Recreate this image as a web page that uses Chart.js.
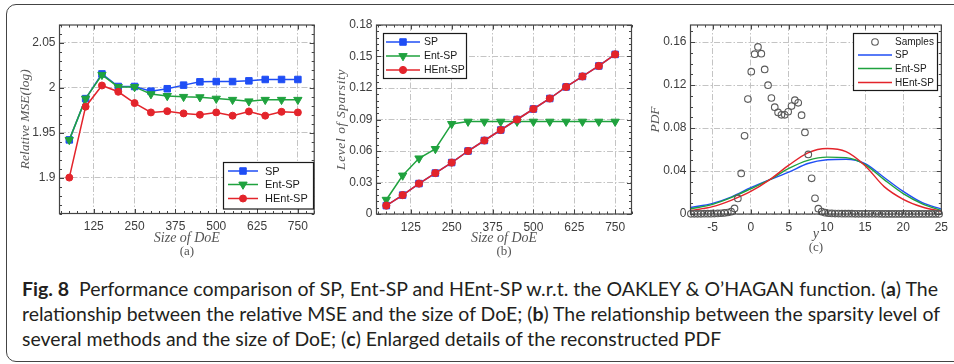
<!DOCTYPE html>
<html>
<head>
<meta charset="utf-8">
<script src="https://cdn.jsdelivr.net/npm/chart.js@4.4.1/dist/chart.umd.min.js"></script>
<style>
  body { margin: 0; width: 954px; height: 364px; overflow: hidden; background: #fff; position: relative; }
  #frame { position: absolute; left: 6px; top: 4px; width: 990px; height: 356px; border: 1.5px solid #444; border-radius: 10px; }
  canvas { position: absolute; top: 0; }
  #caption { position: absolute; left: 22px; top: 276px; color: #231f20;
    font-family: Lato, "Liberation Sans", sans-serif; font-size: 19.5px; line-height: 25px; }
  #caption .ln { white-space: nowrap; height: 25px; }
  #caption .ln span { display: inline-block; transform-origin: 0 50%; }
</style>
</head>
<body>
<div id="frame"></div>
<canvas id="mse" width="320" height="260" style="left:0"></canvas>
<canvas id="sparsity" width="320" height="260" style="left:320px"></canvas>
<canvas id="pdf" width="314" height="260" style="left:640px"></canvas>
<div id="caption">
  <div class="ln"><span><b>Fig. 8</b>&nbsp; Performance comparison of SP, Ent-SP and HEnt-SP w.r.t. the OAKLEY &amp; O’HAGAN function. (<b>a</b>) The</span></div>
  <div class="ln"><span>relationship between the relative MSE and the size of DoE; (<b>b</b>) The relationship between the sparsity level of</span></div>
  <div class="ln"><span>several methods and the size of DoE; (<b>c</b>) Enlarged details of the reconstructed PDF</span></div>
</div>
<script>
// ---- data ----
const doeSizes = [50, 100, 150, 200, 250, 300, 350, 400, 450, 500, 550, 600, 650, 700, 750];

// (a) relative MSE (log)
const mseSP   = [1.942, 1.988, 2.0155, 2.0015, 2.0015, 1.9963, 1.999, 2.003, 2.0067, 2.007, 2.007, 2.0078, 2.0093, 2.0093, 2.0093];
const mseEnt  = [1.942, 1.988, 2.0145, 2.001, 2.001, 1.993, 1.991, 1.990, 1.9896, 1.988, 1.9867, 1.985, 1.9867, 1.9867, 1.9867];
const mseHEnt = [1.900, 1.979, 2.0026, 1.9956, 1.983, 1.9726, 1.974, 1.9715, 1.970, 1.9726, 1.969, 1.9737, 1.969, 1.9733, 1.9726];

// (b) level of sparsity
const sparsSP   = [0.008, 0.018, 0.029, 0.039, 0.049, 0.060, 0.070, 0.080, 0.090, 0.100, 0.110, 0.121, 0.131, 0.141, 0.152];
const sparsEnt  = [0.0136, 0.0367, 0.053, 0.062, 0.0858, 0.088, 0.088, 0.088, 0.088, 0.088, 0.088, 0.088, 0.088, 0.088, 0.088];
const sparsHEnt = [0.008, 0.018, 0.029, 0.039, 0.049, 0.060, 0.070, 0.080, 0.090, 0.100, 0.110, 0.121, 0.131, 0.141, 0.152];

// (c) samples of the PDF
const sampleX = [-7.85, -7.41, -6.97, -6.53, -6.09, -5.65, -5.21, -4.77, -4.33, -3.89, -3.45, -3.01, -2.57, -2.13, -1.69,
  -1.25, -0.81, -0.37, 0.07, 0.51, 0.95, 1.39, 1.83, 2.27, 2.71, 3.15, 3.59, 4.03, 4.47, 4.91,
  5.35, 5.79, 6.23, 6.67, 7.11, 7.55, 7.99, 8.43, 8.87, 9.31, 9.75, 10.19, 10.63, 11.07, 11.51,
  11.95, 12.39, 12.83, 13.27, 13.71, 14.15, 14.59, 15.03, 15.47, 15.91, 16.35, 16.79, 17.23, 17.67, 18.11,
  18.55, 18.99, 19.43, 19.87, 20.31, 20.75, 21.19, 21.63, 22.07, 22.51, 22.95, 23.39, 23.83, 24.27, 24.71];
const sampleY = [0.0002, 0.0002, 0.0002, 0.0002, 0.0003, 0.0003, 0.0003, 0.0004, 0.0005, 0.0007, 0.0010, 0.0014, 0.0022,
  0.0052, 0.0145, 0.0378, 0.0728, 0.1070, 0.1325, 0.1488, 0.1556, 0.1493, 0.1346, 0.1200, 0.1080, 0.0995, 0.0946,
  0.0924, 0.0924, 0.0952, 0.1005, 0.1060, 0.1035, 0.0920, 0.0760, 0.0555, 0.0332, 0.0146, 0.0050, 0.0022, 0.0012,
  0.0007, 0.0005, 0.0004, 0.0004, 0.0003, 0.0003, 0.0003, 0.0003, 0.0002, 0.0002, 0.0002, 0.0002, 0.0002, 0.0002,
  0.0002, 0.0002, 0.0001, 0.0001, 0.0001, 0.0001, 0.0001, 0.0001, 0.0001, 0.0001, 0.0001, 0.0001, 0.0001, 0.0001,
  0.0001, 0.0001, 0.0001, 0.0001, 0.0001, 0.0001];

// (c) reconstructed PDFs
const pdfX    = [-7.9, -5, -2.5, 0, 2.5, 5, 7.5, 10, 12.5, 15, 17.5, 20, 22.5, 25];
const pdfSP   = [0.0060, 0.0099, 0.0160, 0.0245, 0.032, 0.039, 0.047, 0.0505, 0.051, 0.047, 0.034, 0.021, 0.0105, 0.0045];
const pdfEnt  = [0.0047, 0.0090, 0.0155, 0.0235, 0.032, 0.0425, 0.050, 0.053, 0.0525, 0.046, 0.032, 0.019, 0.0095, 0.0032];
const pdfHEnt = [0.0030, 0.0068, 0.0130, 0.0210, 0.032, 0.0455, 0.057, 0.061, 0.058, 0.045, 0.0255, 0.0137, 0.0065, 0.0025];

// tick labels
const doeTicks   = [125, 250, 375, 500, 625, 750];
const mseTicks   = [1.9, 1.95, 2, 2.05];
const sparsTicks = [0, 0.03, 0.06, 0.09, 0.12, 0.15, 0.18];
const yTicks     = [-5, 0, 5, 10, 15, 20, 25];
const pdfTicks   = [0, 0.04, 0.08, 0.12, 0.16];

// ---- styles ----
const BLUE = '#1f4ef5';
const GREEN = '#1fa23e';
const RED = '#e3242b';
const tickFont = { family: '"Liberation Sans", Arial, sans-serif', size: 12 };
const fmt = (v) => String(+v.toFixed(4));

const axis = (min, max, tickValues, side, size, pad) => ({
  type: 'linear',
  min,
  max,
  afterBuildTicks: (s) => { s.ticks = tickValues.map((value) => ({ value })); },
  afterFit: (s) => { if (side === 'x') s.height = size; else s.width = size; },
  grid: { color: '#c4c4c4', lineWidth: 1, drawTicks: false },
  border: { display: false, dash: [6, 2, 1.5, 2] },
  ticks: { padding: pad, color: '#3d3d3d', font: tickFont, callback: fmt, autoSkip: false, maxRotation: 0 },
});

const series = (label, xs, ys, color, shape, r, rot, order) => ({
  label,
  order,
  data: xs.map((x, i) => ({ x, y: ys[i] })),
  borderColor: color,
  backgroundColor: color,
  borderWidth: 1.5,
  pointStyle: shape,
  pointRadius: r,
  pointRotation: rot,
  pointBorderWidth: 1,
  pointBackgroundColor: color,
  pointBorderColor: color,
  clip: false,
});

const curve = (label, ys, color, order) => ({
  label,
  order,
  data: pdfX.map((x, i) => ({ x, y: ys[i] })),
  borderColor: color,
  backgroundColor: color,
  borderWidth: 1.4,
  pointRadius: 0,
  cubicInterpolationMode: 'monotone',
});

// legend marker, same geometry as Chart.js point styles
const drawMarker = (ctx, ds, x, y) => {
  const r = ds.pointRadius;
  ctx.beginPath();
  if (ds.pointStyle === 'rect') {
    const s = r * Math.SQRT1_2;
    ctx.rect(x - s, y - s, 2 * s, 2 * s);
  } else if (ds.pointStyle === 'triangle') {
    ctx.moveTo(x, y + r);
    ctx.lineTo(x - r * 0.866, y - r / 2);
    ctx.lineTo(x + r * 0.866, y - r / 2);
    ctx.closePath();
  } else {
    ctx.arc(x, y, r, 0, Math.PI * 2);
  }
  ctx.fillStyle = ds.pointBackgroundColor;
  ctx.strokeStyle = ds.pointBorderColor;
  ctx.lineWidth = ds.pointBorderWidth;
  ctx.fill();
  ctx.stroke();
};

// MATLAB-like box: inward ticks on four sides, titles, legend inside the axes
const axesBox = (spec) => ({
  id: 'axesBox',
  afterDraw(chart) {
    const { ctx, chartArea: { left, right, top, bottom }, scales: { x, y } } = chart;
    ctx.save();
    ctx.strokeStyle = '#444';
    ctx.lineWidth = 1;

    const run = (scale, minor, major, horizontal) => {
      const i0 = Math.ceil(scale.min / minor - 1e-6);
      const i1 = Math.floor(scale.max / minor + 1e-6);
      for (let i = i0; i <= i1; i++) {
        const v = i * minor;
        const q = v / major;
        const len = Math.abs(q - Math.round(q)) < 1e-6 ? 4.5 : 2.5;
        const p = Math.round(scale.getPixelForValue(v)) + 0.5;
        ctx.beginPath();
        if (horizontal) {
          ctx.moveTo(p, bottom); ctx.lineTo(p, bottom - len);
          ctx.moveTo(p, top); ctx.lineTo(p, top + len);
        } else {
          ctx.moveTo(left, p); ctx.lineTo(left + len, p);
          ctx.moveTo(right, p); ctx.lineTo(right - len, p);
        }
        ctx.stroke();
      }
    };
    run(x, spec.xMinor, spec.xMajor, true);
    run(y, spec.yMinor, spec.yMajor, false);
    ctx.lineWidth = 1.2;
    ctx.strokeRect(left, top, right - left, bottom - top);

    // axis titles
    const cx = (left + right) / 2;
    ctx.fillStyle = '#555';
    ctx.textAlign = 'center';
    ctx.textBaseline = 'middle';
    ctx.font = 'italic 14px "Liberation Serif", serif';
    ctx.fillText(spec.xTitle, cx, spec.xTitleY);
    ctx.font = '13px "Liberation Serif", serif';
    ctx.fillText(spec.sub, cx, spec.subY);
    ctx.save();
    ctx.translate(spec.yTitleX, (top + bottom) / 2);
    ctx.rotate(-Math.PI / 2);
    ctx.font = 'italic 13.5px "Liberation Serif", serif';
    ctx.letterSpacing = spec.ySpacing || '0px';
    ctx.fillText(spec.yTitle, 0, 0);
    ctx.restore();

    // legend
    const lg = spec.legend;
    ctx.fillStyle = '#fff';
    ctx.fillRect(lg.x, lg.y, lg.w, lg.h);
    ctx.strokeStyle = '#1a1a1a';
    ctx.lineWidth = 1.2;
    ctx.strokeRect(lg.x, lg.y, lg.w, lg.h);
    chart.data.datasets.forEach((ds, i) => {
      const ry = lg.rows[i];
      if (ds.showLine !== false) {
        ctx.strokeStyle = ds.borderColor;
        ctx.lineWidth = ds.borderWidth;
        ctx.beginPath();
        ctx.moveTo(lg.line0, ry);
        ctx.lineTo(lg.line1, ry);
        ctx.stroke();
      }
      if (ds.pointRadius > 0) drawMarker(ctx, ds, (lg.line0 + lg.line1) / 2, ry);
      ctx.fillStyle = '#1a1a1a';
      ctx.font = `${lg.font}px "Liberation Sans", Arial, sans-serif`;
      ctx.textAlign = 'left';
      ctx.textBaseline = 'middle';
      ctx.fillText(ds.label, lg.textX, ry + 0.5);
    });
    ctx.restore();
  },
});

const baseOptions = (xScale, yScale, padRight) => ({
  responsive: false,
  animation: false,
  events: [],
  layout: { padding: { top: 25, right: padRight, left: 0, bottom: 0 } },
  scales: { x: xScale, y: yScale },
  plugins: { legend: { display: false }, tooltip: { enabled: false } },
});

// (a)
new Chart(document.getElementById('mse'), {
  type: 'line',
  data: {
    datasets: [
      series('SP', doeSizes, mseSP, BLUE, 'rect', 4.6, 0, 3),
      series('Ent-SP', doeSizes, mseEnt, GREEN, 'triangle', 4.8, 180, 2),
      series('HEnt-SP', doeSizes, mseHEnt, RED, 'circle', 3.5, 0, 1),
    ],
  },
  options: baseOptions(axis(20, 800, doeTicks, 'x', 46.5, 6), axis(1.86, 2.07, mseTicks, 'y', 59.5, 4), 4),
  plugins: [axesBox({
    xMinor: 25, xMajor: 125, yMinor: 0.01, yMajor: 0.05,
    xTitle: 'Size of DoE', xTitleY: 238, sub: '(a)', subY: 252,
    yTitle: 'Relative MSE(log)', yTitleX: 25,
    legend: { x: 223.5, y: 162.5, w: 90, h: 46.5, rows: [171, 184.5, 198.5], line0: 228, line1: 258, textX: 265, font: 11 },
  })],
});

// (b)
new Chart(document.getElementById('sparsity'), {
  type: 'line',
  data: {
    datasets: [
      series('SP', doeSizes, sparsSP, BLUE, 'rect', 4.6, 0, 3),
      series('Ent-SP', doeSizes, sparsEnt, GREEN, 'triangle', 4.8, 180, 2),
      series('HEnt-SP', doeSizes, sparsHEnt, RED, 'circle', 3.6, 0, 1),
    ],
  },
  options: baseOptions(axis(20, 800, doeTicks, 'x', 46, 6), axis(0, 0.18, sparsTicks, 'y', 56.5, 4), 8.5),
  plugins: [axesBox({
    xMinor: 25, xMajor: 125, yMinor: 0.006, yMajor: 0.03,
    xTitle: 'Size of DoE', xTitleY: 238, sub: '(b)', subY: 252,
    yTitle: 'Level of Sparsity', yTitleX: 21.5, ySpacing: '0.6px',
    legend: { x: 63.5, y: 33.5, w: 83, h: 45, rows: [42, 56, 70], line0: 66, line1: 100, textX: 104, font: 10.5 },
  })],
});

// (c)
new Chart(document.getElementById('pdf'), {
  type: 'line',
  data: {
    datasets: [
      {
        label: 'Samples',
        order: 0,
        data: sampleX.map((x, i) => ({ x, y: sampleY[i] })),
        showLine: false,
        pointStyle: 'circle',
        pointRadius: 3.3,
        pointBorderWidth: 1.1,
        pointBorderColor: '#5a5a5a',
        pointBackgroundColor: 'rgba(0,0,0,0)',
        borderColor: '#5a5a5a',
        clip: false,
      },
      curve('SP', pdfSP, BLUE, 3),
      curve('Ent-SP', pdfEnt, GREEN, 2),
      curve('HEnt-SP', pdfHEnt, RED, 1),
    ],
  },
  options: baseOptions(axis(-7.9, 25, yTicks, 'x', 46, 6), axis(0, 0.176, pdfTicks, 'y', 50.5, 4), 7.5),
  plugins: [axesBox({
    xMinor: 1, xMajor: 5, yMinor: 0.01, yMajor: 0.04,
    xTitle: 'y', xTitleY: 234, sub: '(c)', subY: 248,
    yTitle: 'PDF', yTitleX: 15,
    legend: { x: 213.5, y: 33.5, w: 84, h: 57, rows: [42, 55, 68.5, 82.5], line0: 218, line1: 252, textX: 255, font: 10 },
  })],
});

// stretch caption lines to the justified widths of the original
const targets = [916, 918];
let k = 1;
document.querySelectorAll('#caption .ln span').forEach((el, i) => {
  if (i < targets.length) k = targets[i] / el.getBoundingClientRect().width;
  el.style.transform = `scaleX(${k})`;
});
</script>
</body>
</html>
